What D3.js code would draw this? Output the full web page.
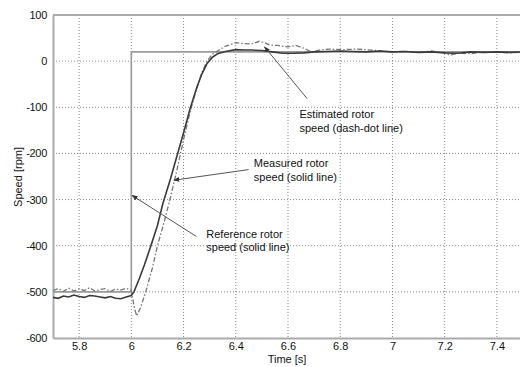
<!DOCTYPE html>
<html><head><meta charset="utf-8">
<script src="https://cdn.jsdelivr.net/npm/d3@7"></script>
<style>
html,body{margin:0;padding:0;background:#fff;}
svg{display:block;font-family:"Liberation Sans",Arial,sans-serif;}
</style></head>
<body><svg id="c" width="520" height="367"></svg>
<script>
// ---- data ----
const xTicks = [5.8, 6, 6.2, 6.4, 6.6, 6.8, 7, 7.2, 7.4];
const xTickLabels = ["5.8", "6", "6.2", "6.4", "6.6", "6.8", "7", "7.2", "7.4"];
const yTicks = [100, 0, -100, -200, -300, -400, -500, -600];
const yTickLabels = ["100", "0", "-100", "-200", "-300", "-400", "-500", "-600"];

const refTime = [5.7, 6.0, 6.0, 7.5];
const refSpeed = [-500, -500, 20, 20];

const measTime = [5.70,5.72,5.74,5.76,5.78,5.80,5.82,5.84,5.86,5.88,5.90,5.92,5.94,5.96,5.98,6.00,
  6.01,6.03,6.05,6.075,6.10,6.12,6.15,6.175,6.20,6.225,6.25,6.27,6.29,6.31,6.33,6.36,6.40,6.43,6.46,
  6.50,6.54,6.58,6.62,6.66,6.70,6.75,6.80,6.85,6.90,6.95,7.00,7.05,7.10,7.15,7.20,7.25,7.30,7.35,7.40,7.45,7.50];
const measSpeed = [-512,-514,-509,-511,-507,-510,-512,-508,-509,-511,-513,-510,-514,-515,-511,-508,
  -500,-472,-442,-400,-356,-310,-255,-205,-155,-103,-58,-28,-5,8,16,21,25,24,24,
  23,20,17,17,18,20,21,22,21,20,22,20,21,19,20,18,17,20,19,20,19,20];

const estTime = [5.70,5.72,5.74,5.76,5.78,5.80,5.82,5.84,5.86,5.88,5.90,5.92,5.94,5.96,5.98,6.00,
  6.01,6.02,6.035,6.055,6.08,6.10,6.125,6.15,6.175,6.20,6.225,6.25,6.27,6.29,6.31,6.33,6.355,6.38,6.40,
  6.43,6.46,6.49,6.51,6.53,6.56,6.60,6.63,6.66,6.69,6.72,6.76,6.81,6.86,6.92,6.96,7.00,7.05,7.10,7.15,
  7.20,7.22,7.25,7.30,7.35,7.40,7.45,7.50];
const estSpeed = [-497,-493,-499,-492,-498,-494,-497,-491,-498,-495,-493,-499,-494,-496,-492,-497,
  -530,-552,-535,-500,-450,-400,-350,-295,-235,-170,-110,-60,-25,0,15,22,31,36,40,
  38,37,43,40,35,34,31,34,28,20,24,26,25,26,24,22,20,21,19,22,
  18,13,17,16,20,19,18,20];

// annotations (text lines anchored in data coordinates, arrow tail/tip in data coordinates)
const annotations = [
  {lines:["Estimated rotor","speed (dash-dot line)"], at:[6.644,-124], tail:[6.673,-81], tip:[6.51,31]},
  {lines:["Measured rotor","speed (solid line)"], at:[6.469,-230], tail:[6.449,-235], tip:[6.163,-258]},
  {lines:["Reference rotor","speed (solid line)"], at:[6.287,-383], tail:[6.249,-380], tip:[6.003,-291]}
];

// ---- layout ----
const L = 53, T = 15, R = 523, B = 338;
const svg = d3.select("#c");
const x = d3.scaleLinear().domain([5.7, 7.5]).range([L, R]);
const y = d3.scaleLinear().domain([-600, 100]).range([B, T]);

svg.append("defs").append("clipPath").attr("id","clip")
  .append("rect").attr("x",L).attr("y",T).attr("width",R-L).attr("height",B-T);

// grid
const grid = svg.append("g");
grid.selectAll("line.vx").data(xTicks).join("line")
  .attr("x1",d=>x(d)).attr("x2",d=>x(d)).attr("y1",T).attr("y2",B)
  .attr("stroke","#8a8a8a").attr("stroke-width",1).attr("stroke-dasharray","1,2");
grid.selectAll("line.hy").data(yTicks.filter(d=>d<100 && d>-600)).join("line")
  .attr("x1",L).attr("x2",R).attr("y1",d=>y(d)).attr("y2",d=>y(d))
  .attr("stroke","#8a8a8a").attr("stroke-width",1).attr("stroke-dasharray","1,2");

// frame top
svg.append("line").attr("x1",L).attr("x2",R).attr("y1",T).attr("y2",T).attr("stroke","#aaa").attr("stroke-width",2);

// axes
const xAxis = d3.axisBottom(x).tickValues(xTicks).tickFormat((d,i)=>xTickLabels[i]).tickSize(0).tickPadding(4);
const gx = svg.append("g").attr("transform",`translate(0,${B})`).call(xAxis);
gx.select(".domain").attr("stroke","#aaa").attr("stroke-width",2);
gx.selectAll("text").attr("font-size",11).attr("fill","#111").attr("font-family","Liberation Sans, Arial, sans-serif");

const yAxis = d3.axisLeft(y).tickValues(yTicks).tickFormat((d,i)=>yTickLabels[i]).tickSize(0).tickPadding(6);
const gy = svg.append("g").attr("transform",`translate(${L},0)`).call(yAxis);
gy.select(".domain").attr("stroke","#aaa").attr("stroke-width",2);
gy.selectAll("text").attr("font-size",11).attr("fill","#111").attr("letter-spacing","-0.3")
  .attr("font-family","Liberation Sans, Arial, sans-serif");

// lines
const plot = svg.append("g").attr("clip-path","url(#clip)");
const line = d3.line().x(d=>x(d[0])).y(d=>y(d[1]));
const zip = (a,b)=>a.map((v,i)=>[v,b[i]]);

plot.append("path").datum(zip(refTime,refSpeed)).attr("d",line)
  .attr("fill","none").attr("stroke","#9a9a9a").attr("stroke-width",1.6);
plot.append("path").datum(zip(estTime,estSpeed)).attr("d",line)
  .attr("fill","none").attr("stroke","#777").attr("stroke-width",1.3).attr("stroke-dasharray","5,2,1.5,2");
plot.append("path").datum(zip(measTime,measSpeed)).attr("d",line)
  .attr("fill","none").attr("stroke","#3a3a3a").attr("stroke-width",1.6);

// axis titles
svg.append("text").attr("x",287).attr("y",363).attr("text-anchor","middle")
  .attr("font-size",11).attr("fill","#111").text("Time [s]");
svg.append("text").attr("transform","translate(22,177) rotate(-90)").attr("text-anchor","middle")
  .attr("font-size",11).attr("fill","#111").text("Speed [rpm]");

// annotations
svg.append("defs").append("marker").attr("id","ah").attr("viewBox","0 0 10 10")
  .attr("refX",9).attr("refY",5).attr("markerWidth",6).attr("markerHeight",6).attr("orient","auto")
  .append("path").attr("d","M0,1 L10,5 L0,9 Z").attr("fill","#333");
const ann = svg.append("g");
annotations.forEach(a=>{
  ann.append("line").attr("x1",x(a.tail[0])).attr("y1",y(a.tail[1]))
    .attr("x2",x(a.tip[0])).attr("y2",y(a.tip[1]))
    .attr("stroke","#555").attr("stroke-width",1).attr("marker-end","url(#ah)");
  const t = ann.append("text").attr("x",x(a.at[0])).attr("y",y(a.at[1]))
    .attr("font-size",11).attr("fill","#111");
  a.lines.forEach((s,i)=>t.append("tspan").attr("x",x(a.at[0])).attr("dy",i?13.5:0).text(s));
});
</script></body></html>
